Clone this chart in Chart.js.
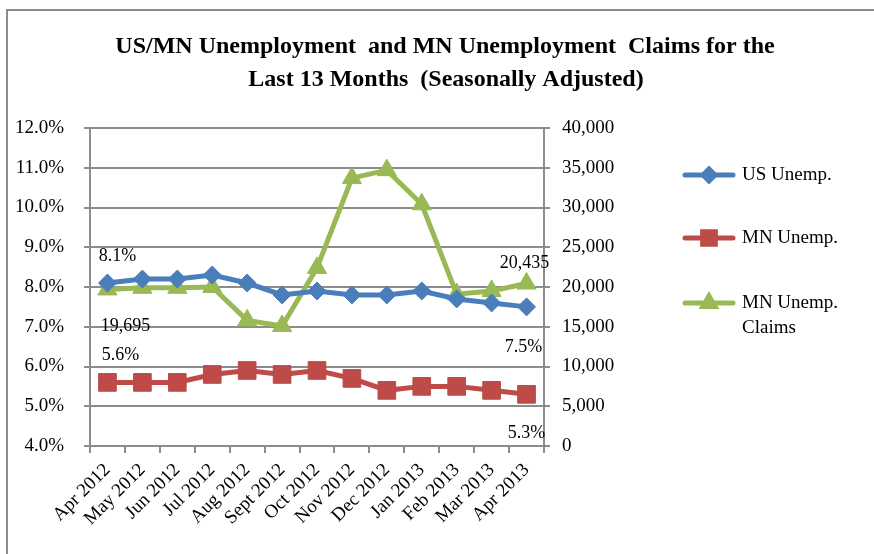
<!DOCTYPE html>
<html>
<head>
<meta charset="utf-8">
<script src="https://cdn.jsdelivr.net/npm/chart.js@4.4.0/dist/chart.umd.min.js"></script>
<style>
  html, body { margin: 0; padding: 0; background: #fff; }
  #wrap { position: relative; width: 874px; height: 554px; }
</style>
</head>
<body>
<div id="wrap"><canvas id="chart" width="874" height="554"></canvas></div>
<script>
/**
 * Data
 */
const months = ['Apr 2012', 'May 2012', 'Jun 2012', 'Jul 2012', 'Aug 2012', 'Sept 2012', 'Oct 2012',
  'Nov 2012', 'Dec 2012', 'Jan 2013', 'Feb 2013', 'Mar 2013', 'Apr 2013'];
const usUnemp = [8.1, 8.2, 8.2, 8.3, 8.1, 7.8, 7.9, 7.8, 7.8, 7.9, 7.7, 7.6, 7.5];
const mnUnemp = [5.6, 5.6, 5.6, 5.8, 5.9, 5.8, 5.9, 5.7, 5.4, 5.5, 5.5, 5.4, 5.3];
const mnClaims = [19695, 19900, 19900, 20000, 15800, 15100, 22400, 33700, 34700, 30400, 19100, 19500, 20435];
const seriesNames = ['US Unemp.', 'MN Unemp.', ['MN Unemp.', 'Claims']];
const titleLines = [
  'US/MN Unemployment  and MN Unemployment  Claims for the',
  'Last 13 Months  (Seasonally Adjusted)',
];

const BLUE = '#4a7ebb';
const RED = '#be4b48';
const GREEN = '#98b954';
const GRAY = '#8c8c8c';
const SERIF = '"Liberation Serif", "Times New Roman", serif';

const fmtPct = (v) => v.toFixed(1) + '%';
const fmtNum = (v) => Math.round(v).toLocaleString('en-US');

/**
 * Frame, title, legend and point labels
 */
const decorations = {
  id: 'decorations',
  beforeDraw(chart) {
    const ctx = chart.ctx;
    ctx.save();
    ctx.fillStyle = '#fff';
    ctx.fillRect(0, 0, chart.width, chart.height);
    ctx.strokeStyle = GRAY;
    ctx.lineWidth = 2;
    ctx.strokeRect(7, 10, 900, 600);
    ctx.restore();
  },
  afterDraw(chart) {
    const ctx = chart.ctx;
    ctx.save();
    ctx.fillStyle = '#000';
    ctx.textAlign = 'center';
    ctx.textBaseline = 'middle';

    // Title
    ctx.font = 'bold 24px ' + SERIF;
    ctx.fillText(titleLines[0], 445, 47);
    ctx.fillText(titleLines[1], 446, 80);

    // Legend
    const rows = [175, 238, 303];
    chart.data.datasets.forEach((ds, i) => {
      const y = rows[i];
      ctx.strokeStyle = ds.borderColor;
      ctx.lineWidth = 5;
      ctx.lineCap = 'round';
      ctx.beginPath();
      ctx.moveTo(685, y);
      ctx.lineTo(733, y);
      ctx.stroke();
      Chart.helpers.drawPoint(ctx, { pointStyle: ds.pointStyle, radius: ds.legendRadius, borderWidth: 1 }, 709, y);
      ctx.fillStyle = ds.borderColor;
      ctx.fill();
      ctx.fillStyle = '#000';
      ctx.textAlign = 'left';
      ctx.font = '19px ' + SERIF;
      const lines = Array.isArray(seriesNames[i]) ? seriesNames[i] : [seriesNames[i]];
      lines.forEach((t, k) => ctx.fillText(t, 742, y + k * 25));
    });

    // Point labels at the first and last month
    const x = chart.scales.x;
    const y = chart.scales.y;
    const y1 = chart.scales.y1;
    const last = months.length - 1;
    ctx.textAlign = 'center';
    ctx.font = '18px ' + SERIF;
    const labels = [
      [fmtPct(usUnemp[0]), x.getPixelForValue(0) + 10, y.getPixelForValue(usUnemp[0]) - 27],
      [fmtNum(mnClaims[0]), x.getPixelForValue(0) + 18, y1.getPixelForValue(mnClaims[0]) + 37],
      [fmtPct(mnUnemp[0]), x.getPixelForValue(0) + 13, y.getPixelForValue(mnUnemp[0]) - 27],
      [fmtNum(mnClaims[last]), x.getPixelForValue(last) - 2, y1.getPixelForValue(mnClaims[last]) - 20],
      [fmtPct(usUnemp[last]), x.getPixelForValue(last) - 3, y.getPixelForValue(usUnemp[last]) + 40],
      [fmtPct(mnUnemp[last]), x.getPixelForValue(last) + 0, y.getPixelForValue(mnUnemp[last]) + 39],
    ];
    labels.forEach(([t, lx, ly]) => ctx.fillText(t, lx, ly));
    ctx.restore();
  },
};

/**
 * Chart
 */
const tickFont = { family: SERIF, size: 19 };

new Chart(document.getElementById('chart'), {
  type: 'line',
  data: {
    labels: months,
    datasets: [
      {
        label: 'US Unemp.',
        data: usUnemp,
        yAxisID: 'y',
        borderColor: BLUE,
        backgroundColor: BLUE,
        borderWidth: 5,
        pointStyle: 'rectRot',
        pointRadius: 9,
        legendRadius: 6,
        pointBorderWidth: 1,
      },
      {
        label: 'MN Unemp.',
        data: mnUnemp,
        yAxisID: 'y',
        borderColor: RED,
        backgroundColor: RED,
        borderWidth: 5,
        pointStyle: 'rect',
        pointRadius: 12.5,
        legendRadius: 9,
        pointBorderWidth: 1,
      },
      {
        label: 'MN Unemp. Claims',
        data: mnClaims,
        yAxisID: 'y1',
        borderColor: GREEN,
        backgroundColor: GREEN,
        borderWidth: 5,
        pointStyle: 'triangle',
        pointRadius: 11,
        legendRadius: 7,
        pointBorderWidth: 1,
      },
    ],
  },
  options: {
    responsive: false,
    animation: false,
    devicePixelRatio: 1,
    layout: { padding: { top: 128, left: 0, right: 0, bottom: 0 } },
    plugins: {
      legend: { display: false },
      title: { display: false },
      tooltip: { enabled: false },
    },
    scales: {
      x: {
        offset: true,
        grid: { offset: true, drawOnChartArea: false, tickLength: 7, color: GRAY, lineWidth: 2 },
        border: { color: GRAY, width: 2 },
        ticks: { autoSkip: false, minRotation: 45, maxRotation: 45, color: '#000', font: tickFont, padding: 6 },
        afterFit: (scale) => { scale.height = 108; },
      },
      y: {
        position: 'left',
        min: 4,
        max: 12,
        grid: { color: GRAY, lineWidth: 2, tickLength: 6 },
        border: { color: GRAY, width: 2 },
        ticks: { stepSize: 1, callback: fmtPct, color: '#000', font: tickFont, padding: 20 },
        afterFit: (scale) => { scale.width = 90; },
      },
      y1: {
        position: 'right',
        min: 0,
        max: 40000,
        grid: { drawOnChartArea: false, color: GRAY, lineWidth: 2, tickLength: 6 },
        border: { color: GRAY, width: 2 },
        ticks: { stepSize: 5000, callback: fmtNum, color: '#000', font: tickFont, padding: 12 },
        afterFit: (scale) => { scale.width = 330; },
      },
    },
  },
  plugins: [decorations],
});
</script>
</body>
</html>
